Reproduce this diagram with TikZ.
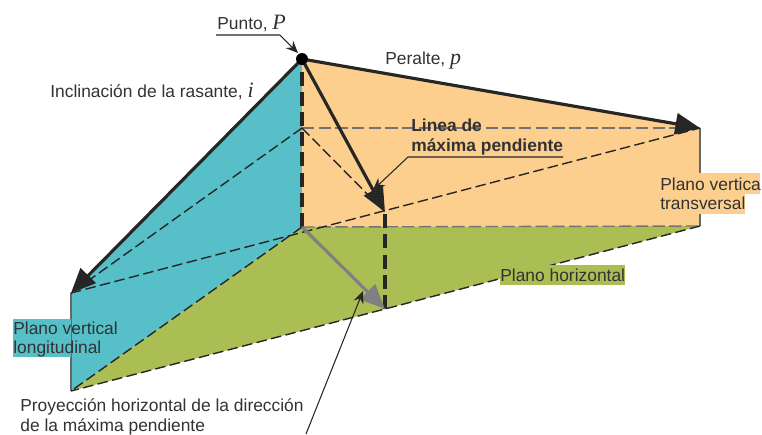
\documentclass[tikz,border=0pt]{standalone}
\usepackage{fontspec}
\setmainfont{Liberation Sans}
\newfontfamily\varfont{Liberation Serif}
\usepackage{tikz}
\usetikzlibrary{arrows.meta}
\definecolor{tealplane}{RGB}{86,191,200}
\definecolor{orangeplane}{RGB}{252,207,142}
\definecolor{greenplane}{RGB}{171,190,84}
\definecolor{inkline}{RGB}{38,38,38}
\definecolor{inktext}{RGB}{50,50,50}
\newcommand{\varname}[1]{{\fontsize{12.5}{12}\selectfont\varfont\itshape #1}}
\tikzset{
  lbl/.style={inner sep=0pt,text=inktext,font=\fontsize{9.9}{10.9}\selectfont,align=left},
  heavy/.style={draw=inkline,line width=1.8pt,-{Triangle[length=14pt,width=12pt]}},
  guide/.style={draw=inkline,dash pattern=on 6pt off 2.5pt,line width=0.8pt},
  greyguide/.style={draw=black!55,dash pattern=on 7pt off 2.5pt,line width=0.8pt},
  riser/.style={draw=inkline,dash pattern=on 8pt off 3.5pt,line width=2.1pt},
  leader/.style={draw=inkline,line width=0.6pt,-{Stealth[length=7pt,width=6pt,inset=2.5pt]}},
}
\begin{document}
\begin{tikzpicture}[x=0.02cm,y=-0.02cm]
\useasboundingbox (0,0) rectangle (762,434);
\coordinate (nP) at (302,59);
\coordinate (nM) at (302,128);
\coordinate (nO) at (302,227);
\coordinate (nR) at (700,128);
\coordinate (nS) at (700,226);
\coordinate (nL) at (71,293);
\coordinate (nB) at (71,391);
\coordinate (nT) at (385,212);
\coordinate (nF) at (385,309);
% planes
\fill [tealplane] (nP) -- (nO) -- (nB) -- (nL) -- cycle;
\fill [orangeplane] (nP) -- (nR) -- (nS) -- (nO) -- cycle;
\fill [greenplane] (nO) -- (nS) -- (nF) -- (nB) -- cycle;
\draw [black!60,line width=0.8pt] (nL) -- (nB);
\draw [black!60,line width=0.8pt] (nR) -- (nS);
% dashed lines
\draw [greyguide] (nM) -- (nR);
\draw [greyguide] (nO) -- (nS);
\draw [guide] (nM) -- (nL);
\draw [guide] (nM) -- (nT);
\draw [guide] (nL) -- (nR);
\draw [guide] (nO) -- (nB);
\draw [guide] (nS) -- (nF) -- (nB);
\draw [riser] (nO) -- (nP);
\draw [riser] (nF) -- (nT);
% main arrows
\draw [heavy] (nP) -- (nL);
\draw [heavy] (nP) -- (nR);
\draw [heavy] (nP) -- (nT);
\draw [heavy,draw=black!50,fill=black!50] (nO) -- (nF);
\fill [black] (nP) circle (3.4pt);
% labels
\node [lbl,anchor=base west] (nPunto) at (217,29) {Punto, \varname{P}};
\node [lbl,anchor=base west] (nPeralte) at (385,64) {Peralte, \varname{p}};
\node [lbl,anchor=base west] (nIncl) at (50,97) {Inclinación de la rasante, \varname{i}};
\node [lbl,anchor=base west,font=\fontsize{9.9}{10.9}\selectfont\bfseries] (nLinea) at (411,131) {Linea de};
\node [lbl,anchor=base west,font=\fontsize{9.9}{10.9}\selectfont\bfseries] (nMaxima) at (411,151) {máxima pendiente};
\fill [orangeplane] (658,173) rectangle (760,194);
\fill [orangeplane] (658,194) rectangle (745,214);
\node [lbl,anchor=base west] (nPlanoV) at (660,190) {Plano vertica};
\node [lbl,anchor=base west] (nPlanoT) at (660,209) {transversal};
\fill [greenplane] (500,265) rectangle (625,285);
\node [lbl,anchor=base west] (nPlanoH) at (500,281) {Plano horizontal};
\fill [tealplane] (13,319) rectangle (71,357);
\node [lbl,anchor=base west] (nPlanoL) at (13,334) {Plano vertical};
\node [lbl,anchor=base west] (nLong) at (13,353) {longitudinal};
\node [lbl,anchor=base west] (nProy) at (20,411) {Proyección horizontal de la dirección};
\node [lbl,anchor=base west] (nProyB) at (20,431) {de la máxima pendiente};
% leaders
\coordinate (nPuntoA) at (216,35);
\coordinate (nPuntoB) at (280,35);
\coordinate (nLineaA) at (563,157);
\coordinate (nLineaB) at (408,157);
\coordinate (nProyA) at (306,434);
\coordinate (nProyC) at (363,291);
\draw [leader] (nPuntoA) -- (nPuntoB) -- (298,53);
\draw [leader] (nLineaA) -- (nLineaB) -- (373,190);
\draw [leader] (nProyA) -- (nProyC);
\end{tikzpicture}
\end{document}
